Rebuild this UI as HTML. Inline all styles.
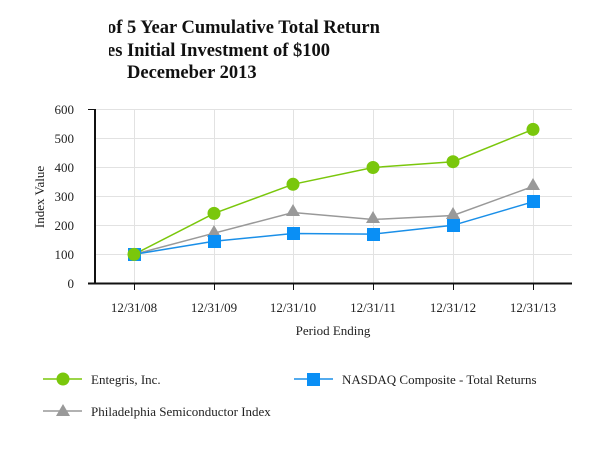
<!DOCTYPE html><html><head><style>body{margin:0;background:#fff;}svg{display:block}</style></head><body>
<svg width="606" height="449" xmlns="http://www.w3.org/2000/svg" font-family="Liberation Serif, serif">
<g font-weight="bold" font-size="18.5" fill="#111">
<text x="107" y="33">of 5 Year Cumulative Total Return</text>
<text x="107" y="56">es Initial Investment of $100</text>
<text x="127" y="78">Decemeber 2013</text>
</g>
<rect x="100" y="0" width="9" height="90" fill="#fff"/>
<g stroke="#e2e2e2" stroke-width="1">
<line x1="94" y1="109.5" x2="572" y2="109.5"/><line x1="94" y1="138.5" x2="572" y2="138.5"/><line x1="94" y1="167.5" x2="572" y2="167.5"/><line x1="94" y1="196.5" x2="572" y2="196.5"/><line x1="94" y1="225.5" x2="572" y2="225.5"/><line x1="94" y1="254.5" x2="572" y2="254.5"/>
<line x1="134.5" y1="109" x2="134.5" y2="284"/><line x1="214.5" y1="109" x2="214.5" y2="284"/><line x1="293.5" y1="109" x2="293.5" y2="284"/><line x1="373.5" y1="109" x2="373.5" y2="284"/><line x1="453.5" y1="109" x2="453.5" y2="284"/><line x1="533.5" y1="109" x2="533.5" y2="284"/>
</g>
<g stroke="#111" stroke-width="1">
<line x1="88" y1="109.5" x2="95" y2="109.5"/>
<line x1="88" y1="283.5" x2="572" y2="283.5" stroke-width="2"/>
<line x1="95" y1="109" x2="95" y2="284" stroke-width="2"/>
<line x1="134.5" y1="284" x2="134.5" y2="290"/><line x1="214.5" y1="284" x2="214.5" y2="290"/><line x1="293.5" y1="284" x2="293.5" y2="290"/><line x1="373.5" y1="284" x2="373.5" y2="290"/><line x1="453.5" y1="284" x2="453.5" y2="290"/><line x1="533.5" y1="284" x2="533.5" y2="290"/>
</g>
<g font-size="13" fill="#222" text-anchor="end">
<text x="74" y="114">600</text><text x="74" y="143">500</text><text x="74" y="172">400</text><text x="74" y="201">300</text><text x="74" y="230">200</text><text x="74" y="259">100</text><text x="74" y="288">0</text>
</g>
<text transform="translate(44,197) rotate(-90)" font-size="13" text-anchor="middle" fill="#222">Index Value</text>
<g font-size="13" fill="#222" text-anchor="middle">
<text x="134" y="312">12/31/08</text><text x="214" y="312">12/31/09</text><text x="293" y="312">12/31/10</text><text x="373" y="312">12/31/11</text><text x="453" y="312">12/31/12</text><text x="533" y="312">12/31/13</text>
<text x="333" y="335">Period Ending</text>
</g>
<polyline fill="none" stroke="#999" stroke-width="1.5" points="134,254.4 214,233.2 293,212.5 373,219.5 453,215.5 533,186.4"/>
<polyline fill="none" stroke="#1a8fe8" stroke-width="1.5" points="134,254.4 214,241.3 293,233.5 373,234.1 453,225.3 533,201.8"/>
<polyline fill="none" stroke="#7ac70c" stroke-width="1.5" points="134,254.4 214,213.4 293,184.3 373,167.5 453,161.7 533,129.4"/>
<g fill="#999">
<polygon points="214,225 221,237 207,237"/><polygon points="293,204 300,216 286,216"/><polygon points="373,211 380,223 366,223"/><polygon points="453,207 460,219 446,219"/><polygon points="533,178 540,190 526,190"/>
</g>
<g fill="#0a8ff5">
<rect x="128" y="248" width="13" height="13"/><rect x="208" y="235" width="13" height="13"/><rect x="287" y="227" width="13" height="13"/><rect x="367" y="228" width="13" height="13"/><rect x="447" y="219" width="13" height="13"/><rect x="527" y="195" width="13" height="13"/>
</g>
<g fill="#7ac70c">
<circle cx="134" cy="254.4" r="6.5"/><circle cx="214" cy="213.4" r="6.5"/><circle cx="293" cy="184.3" r="6.5"/><circle cx="373" cy="167.5" r="6.5"/><circle cx="453" cy="161.7" r="6.5"/><circle cx="533" cy="129.4" r="6.5"/>
</g>
<line x1="43" y1="379" x2="82" y2="379" stroke="#7ac70c" stroke-width="1.5"/><circle cx="63" cy="379" r="6.5" fill="#7ac70c"/>
<line x1="294" y1="379" x2="333" y2="379" stroke="#1a8fe8" stroke-width="1.5"/><rect x="307" y="373" width="13" height="13" fill="#0a8ff5"/>
<line x1="43" y1="411" x2="82" y2="411" stroke="#999" stroke-width="1.5"/><polygon points="63,404 70,416 56,416" fill="#999"/>
<g font-size="13" fill="#222">
<text x="91" y="384">Entegris, Inc.</text>
<text x="342" y="384">NASDAQ Composite - Total Returns</text>
<text x="91" y="416">Philadelphia Semiconductor Index</text>
</g>
</svg>
</body></html>
